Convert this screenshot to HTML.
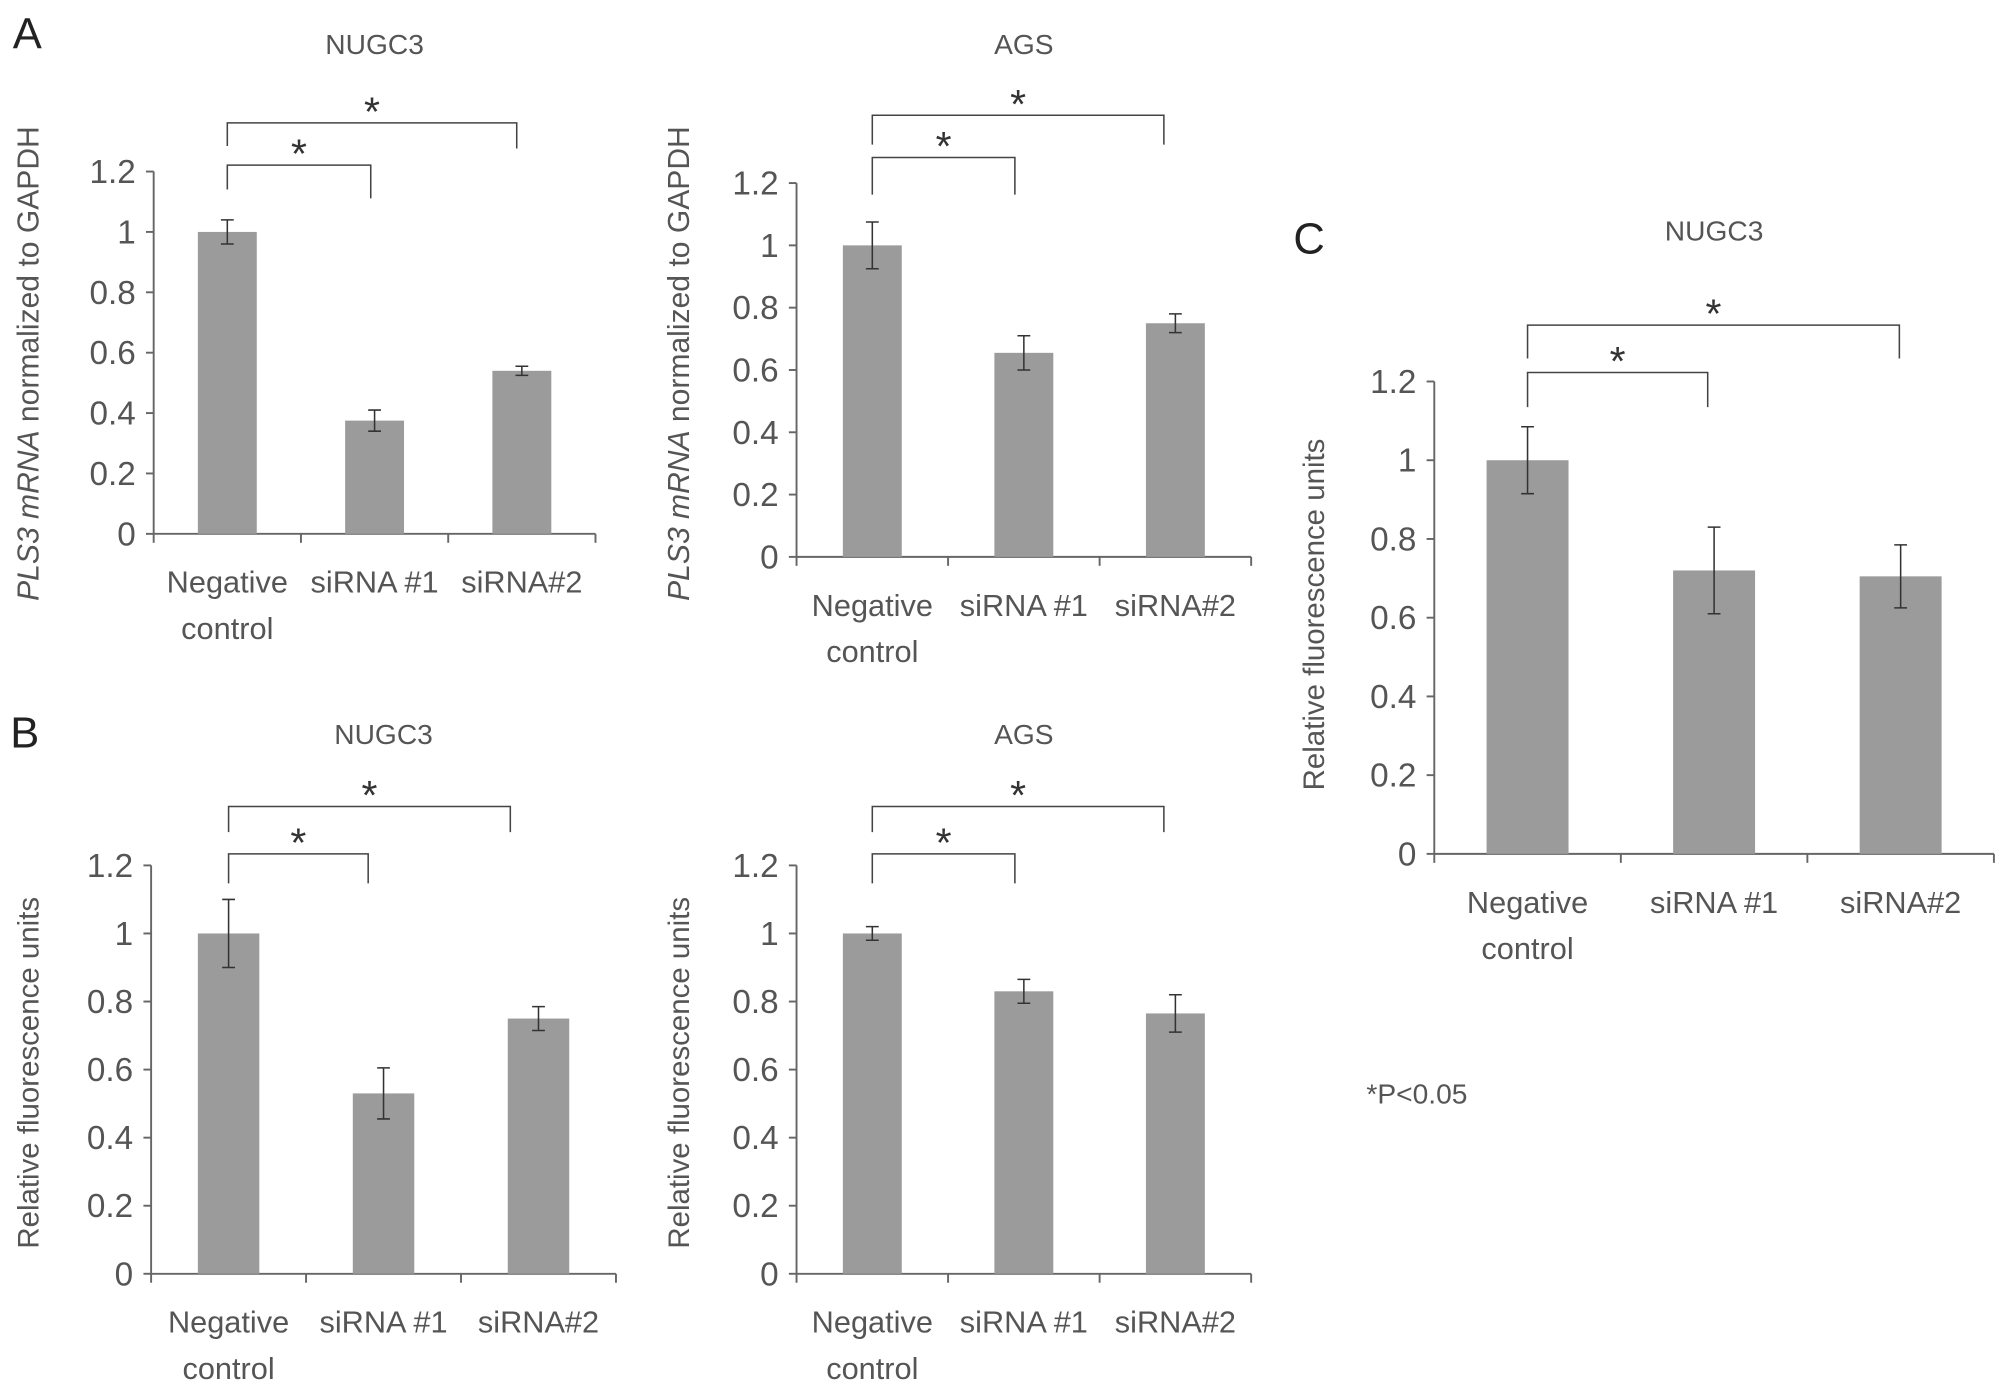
<!DOCTYPE html>
<html><head><meta charset="utf-8"><style>
html,body{margin:0;padding:0;background:#fff;}
svg{display:block;font-family:"Liberation Sans",sans-serif;}
text{fill:#555;}
</style></head><body>
<svg id="fig" width="2008" height="1389" viewBox="0 0 1568 1085" preserveAspectRatio="none" xmlns="http://www.w3.org/2000/svg"></svg>
<script>
const categories = [["Negative","control"],["siRNA #1"],["siRNA#2"]];
const yTicks = [0,0.2,0.4,0.6,0.8,1,1.2];
const tickLabels = ["0","0.2","0.4","0.6","0.8","1","1.2"];
const valsA1 = [1.0,0.375,0.54];
const errA1 = [0.04,0.035,0.015];
const valsA2 = [1.0,0.655,0.75];
const errA2 = [0.075,0.055,0.03];
const valsB1 = [1.0,0.53,0.75];
const errB1 = [0.1,0.075,0.035];
const valsB2 = [1.0,0.83,0.765];
const errB2 = [0.02,0.035,0.055];
const valsC = [1.0,0.72,0.705];
const errC = [0.085,0.11,0.08];

const svg = document.getElementById('fig');
const NS = "http://www.w3.org/2000/svg";
function mk(tag, attrs, parent){
  const e = document.createElementNS(NS, tag);
  for (const k in attrs) e.setAttribute(k, attrs[k]);
  (parent||svg).appendChild(e);
  return e;
}
function txt(x,y,s,size,parent,anchor){
  const t = mk('text',{x:x,y:y,'font-size':size,'text-anchor':anchor||'middle'},parent);
  t.textContent = s;
  return t;
}

function panel(id, p, vals, errs){
  const g = mk('g',{});
  
  
  const yS = v => p.y0 + (p.y12 - p.y0) * v / 1.2;
  const step = (p.x1 - p.x0) / categories.length;
  const xC = i => p.x0 + step * (i + 0.5);
  const t = txt(xC(1), p.titleY, p.title, 22, g);
  
  
  const ax = mk('line',{x1:p.x0,y1:p.y12,x2:p.x0,y2:p.y0,stroke:'#666','stroke-width':1.5},g);
  
  
  yTicks.forEach((v,i)=>{
    mk('line',{x1:p.x0-6,y1:yS(v),x2:p.x0,y2:yS(v),stroke:'#666','stroke-width':1.5},g);
    const tl = txt(p.x0-14, yS(v)+9, tickLabels[i], 26, g, 'end');
    
    
  });
  const xa = mk('line',{x1:p.x0,y1:p.y0,x2:p.x1,y2:p.y0,stroke:'#666','stroke-width':1.5},g);
  
  
  for (let i=0;i<=categories.length;i++){
    mk('line',{x1:p.x0+step*i,y1:p.y0,x2:p.x0+step*i,y2:p.y0+7,stroke:'#666','stroke-width':1.5},g);
  }
  categories.forEach((c,i)=>{
    c.forEach((line,j)=>{
      const l = txt(xC(i), p.y0+46+j*36, line, 24, g);
      
      
    });
  });
  vals.forEach((v,i)=>{
    const b = mk('rect',{x:xC(i)-p.bw/2,y:yS(v),width:p.bw,height:p.y0-yS(v),fill:'#9b9b9b'},g);
    
    
    const e = errs[i];
    const eb = mk('path',{d:`M${xC(i)},${yS(v+e)}V${yS(v-e)}M${xC(i)-5},${yS(v+e)}h10M${xC(i)-5},${yS(v-e)}h10`,stroke:'#333','stroke-width':1.2,fill:'none'},g);
    
    
  });
  p.br.forEach(b=>{
    const br = mk('path',{d:`M${xC(0)},${b.d1}V${b.y}H${xC(b.to)-b.off}V${b.d2}`,stroke:'#444','stroke-width':1.2,fill:'none'},g);
    
    
    const s = txt((xC(0)+xC(b.to)-b.off)/2, b.y+2, '*', 32, g);
    s.setAttribute('fill','#333');
    s.style.fill='#333';
    
    
  });
  const yt = mk('text',{transform:`translate(${p.ytX},${p.ytY}) rotate(-90)`,'font-size':p.mrna?23.5:23,'text-anchor':'middle'},g);
  
  
  if (p.mrna){
    const a = mk('tspan',{'font-style':'italic'},yt); a.textContent='PLS3 mRNA';
    const b = mk('tspan',{},yt); b.textContent=' normalized to GAPDH';
  } else yt.textContent = 'Relative fluorescence units';
}

panel('a-nugc3',{x0:120,x1:465,y0:417,y12:134,bw:46,title:'NUGC3',titleY:42,ytX:30,ytY:284,mrna:true,
  br:[{y:129,to:1,off:3,d1:148,d2:155},{y:96,to:2,off:4,d1:114,d2:116}]}, valsA1, errA1);
panel('a-ags',{x0:622,x1:977,y0:435,y12:143,bw:46,title:'AGS',titleY:42,ytX:538,ytY:284,mrna:true,
  br:[{y:123,to:1,off:7,d1:152,d2:152},{y:90,to:2,off:9,d1:113,d2:113}]}, valsA2, errA2);
panel('b-nugc3',{x0:118,x1:481,y0:995,y12:676,bw:48,title:'NUGC3',titleY:581,ytX:30,ytY:838,mrna:false,
  br:[{y:667,to:1,off:12,d1:690,d2:690},{y:630,to:2,off:22,d1:650,d2:650}]}, valsB1, errB1);
panel('b-ags',{x0:622,x1:977,y0:995,y12:676,bw:46,title:'AGS',titleY:581,ytX:538,ytY:838,mrna:false,
  br:[{y:667,to:1,off:7,d1:690,d2:690},{y:630,to:2,off:9,d1:650,d2:650}]}, valsB2, errB2);
panel('c-nugc3',{x0:1120,x1:1557,y0:667,y12:298,bw:64,title:'NUGC3',titleY:188,ytX:1034,ytY:480,mrna:false,
  br:[{y:291,to:1,off:5,d1:318,d2:318},{y:254,to:2,off:1,d1:280,d2:280}]}, valsC, errC);

[['A',10,38],['B',8,584],['C',1010,198]].forEach(l=>{
  const t = txt(l[1], l[2], l[0], 34, svg, 'start');
  t.setAttribute('fill','#222');
  t.style.fill = '#222';
  
  
});
const pn = txt(1067, 862, '*P<0.05', 22, svg, 'start');


</script>
</body></html>
